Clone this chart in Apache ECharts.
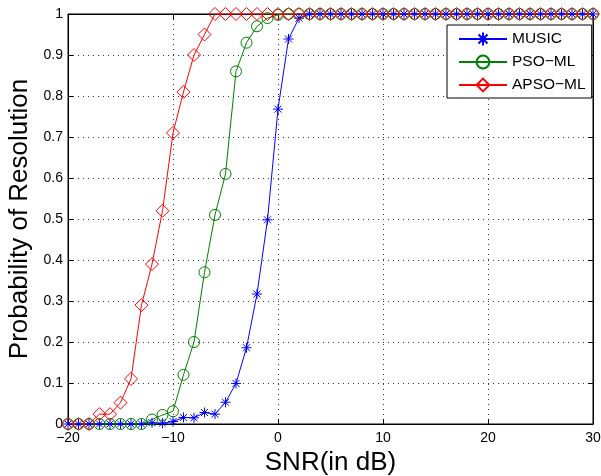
<!DOCTYPE html>
<html>
<head>
<meta charset="utf-8">
<script src="https://cdn.jsdelivr.net/npm/echarts@6/dist/echarts.min.js"></script>
<style>html,body{margin:0;padding:0;background:#fff}#c{width:601px;height:476px}</style>
</head>
<body>
<div id="c"></div>
<script>
var snr = [-20,-19,-18,-17,-16,-15,-14,-13,-12,-11,-10,-9,-8,-7,-6,-5,-4,-3,-2,-1,0,1,2,3,4,5,6,7,8,9,10,11,12,13,14,15,16,17,18,19,20,21,22,23,24,25,26,27,28,29,30];
var music = [0,0,0,0,0,0,0,0,0.003,0.002,0.006,0.016,0.015,0.028,0.024,0.053,0.099,0.186,0.317,0.498,0.768,0.939,0.99,1,1,1,1,1,1,1,1,1,1,1,1,1,1,1,1,1,1,1,1,1,1,1,1,1,1,1,1];
var psoml = [0,0,0,0,0,0,0,0,0.011,0.022,0.031,0.12,0.2,0.37,0.51,0.61,0.86,0.93,0.97,0.99,0.998,1,1,1,1,1,1,1,1,1,1,1,1,1,1,1,1,1,1,1,1,1,1,1,1,1,1,1,1,1,1];
var apsoml = [0,0,0,0.024,0.024,0.052,0.11,0.29,0.39,0.52,0.71,0.81,0.9,0.95,1,1,1,1,1,1,1,1,1,1,1,1,1,1,1,1,1,1,1,1,1,1,1,1,1,1,1,1,1,1,1,1,1,1,1,1,1];
var seriesNames = ['MUSIC', 'PSO\u2212ML', 'APSO\u2212ML'];
var xTicks = {min: -20, max: 30, interval: 10};
var yTicks = {min: 0, max: 1, interval: 0.1};

var FONT = 'Arial, "Liberation Sans", Helvetica, sans-serif';
var asterisk = 'path://M0,-10 L0,10 M-10,0 L10,0 M-7,-7 L7,7 M-7,7 L7,-7';
function pairs(ys){ return snr.map(function(x,i){ return [x, ys[i]]; }); }
function mk(name, ys, color, symbol, size){
  return {
    name: name, type: 'line', data: pairs(ys), xAxisIndex: 0, yAxisIndex: 0,
    symbol: symbol, symbolSize: size, showAllSymbol: true,
    lineStyle: {color: color, width: 1},
    itemStyle: {color: 'rgba(0,0,0,0)', borderColor: color, borderWidth: 1},
    emphasis: {disabled: true}, animation: false
  };
}
var fmt = function(v){ return v < 0 ? '\u2212' + Math.abs(v) : String(v); };
var chart = echarts.init(document.getElementById('c'));
chart.setOption({
  animation: false,
  textStyle: {fontFamily: FONT},
  grid: {left: 68, right: 8, top: 14, bottom: 52, outerBoundsMode: 'none', containLabel: false,
         show: true, borderColor: '#000', borderWidth: 1, backgroundColor: '#fff'},
  legend: {
    data: seriesNames, orient: 'vertical', left: 447, top: 25,
    backgroundColor: '#fff', borderColor: '#000', borderWidth: 1,
    padding: [6, 6, 5, 11], itemGap: 7, itemWidth: 48, itemHeight: 16,
    textStyle: {fontSize: 15.5, color: '#000', fontFamily: FONT}
  },
  xAxis: [{
    type: 'value', min: xTicks.min, max: xTicks.max, interval: xTicks.interval,
    name: 'SNR(in dB)', nameLocation: 'middle', nameGap: 23,
    nameTextStyle: {fontSize: 26, color: '#000', fontFamily: FONT},
    axisLine: {show: true, onZero: false, lineStyle: {color: '#000', width: 1}},
    axisTick: {show: true, inside: true, length: 5, lineStyle: {color: '#000'}},
    axisLabel: {fontSize: 14, color: '#000', margin: 7, formatter: fmt, fontFamily: FONT},
    splitLine: {show: true, lineStyle: {color: '#333', type: [1, 4], width: 1}}
  }, {
    type: 'value', position: 'top', min: xTicks.min, max: xTicks.max, interval: xTicks.interval,
    axisLine: {show: true, onZero: false, lineStyle: {color: '#000'}},
    axisTick: {show: true, inside: true, length: 5, lineStyle: {color: '#000'}},
    axisLabel: {show: false}, splitLine: {show: false}
  }],
  yAxis: [{
    type: 'value', min: yTicks.min, max: yTicks.max, interval: yTicks.interval,
    name: 'Probability of Resolution', nameLocation: 'middle', nameGap: 32,
    nameTextStyle: {fontSize: 26, color: '#000', fontFamily: FONT},
    axisLine: {show: true, onZero: false, lineStyle: {color: '#000', width: 1}},
    axisTick: {show: true, inside: true, length: 5, lineStyle: {color: '#000'}},
    axisLabel: {fontSize: 14, color: '#000', margin: 5, fontFamily: FONT},
    splitLine: {show: true, lineStyle: {color: '#333', type: [1, 4], width: 1}}
  }, {
    type: 'value', position: 'right', min: yTicks.min, max: yTicks.max, interval: yTicks.interval,
    axisLine: {show: true, onZero: false, lineStyle: {color: '#000'}},
    axisTick: {show: true, inside: true, length: 5, lineStyle: {color: '#000'}},
    axisLabel: {show: false}, splitLine: {show: false}
  }],
  series: [
    mk(seriesNames[0], music, '#0000ff', asterisk, 10),
    mk(seriesNames[1], psoml, '#008000', 'circle', 11),
    mk(seriesNames[2], apsoml, '#ff0000', 'diamond', 13)
  ]
});
</script>
</body>
</html>
